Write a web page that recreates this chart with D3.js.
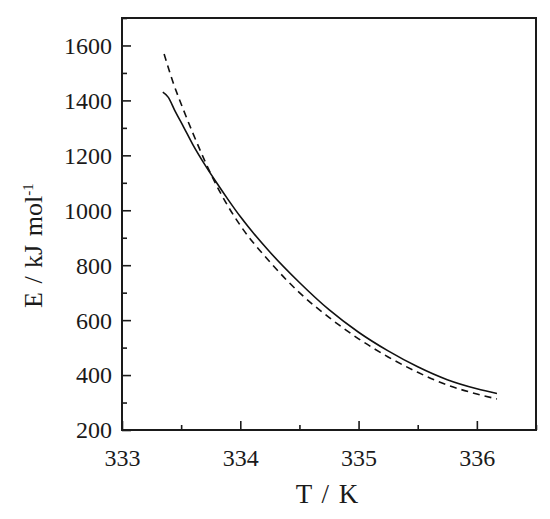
<!DOCTYPE html>
<html>
<head>
<meta charset="utf-8">
<script src="https://cdn.jsdelivr.net/npm/d3@7"></script>
<style>
  body { margin: 0; background: #fff; }
</style>
</head>
<body>
<div id="chart"></div>
<script>
'use strict';

// temperature (K) and activation energy (kJ/mol), solid curve
const solidT = [333.345, 333.39, 333.45, 333.52, 333.6, 333.7, 333.8, 333.9, 334.0, 334.25, 334.5, 334.75, 335.0, 335.25, 335.5, 335.75, 336.0, 336.17];
const solidE = [1430, 1412, 1360, 1304, 1238, 1166, 1100, 1037, 977, 848, 737, 638, 556, 488, 430, 383, 350, 333];

// dashed curve
const dashT = [333.356, 333.43, 333.52, 333.6, 333.7, 333.8, 333.9, 334.0, 334.25, 334.5, 334.75, 335.0, 335.25, 335.5, 335.75, 336.0, 336.17];
const dashE = [1569, 1468, 1365, 1280, 1180, 1090, 1012, 945, 812, 700, 610, 532, 466, 410, 364, 331, 313];

const xTicks = [333, 334, 335, 336];
const xMinor = [333.5, 334.5, 335.5, 336.5];
const yTicks = [200, 400, 600, 800, 1000, 1200, 1400, 1600];
const yMinor = [300, 500, 700, 900, 1100, 1300, 1500, 1700];

const serif = "'Liberation Serif', 'Times New Roman', Tinos, Times, serif";

const width = 550, height = 519;
const margin = {top: 18, right: 14, bottom: 89, left: 122};

const svg = d3.select("#chart").append("svg")
    .attr("width", width)
    .attr("height", height);

const x = d3.scaleLinear()
    .domain([333, 336.5])
    .range([margin.left, width - margin.right]);

const y = d3.scaleLinear()
    .domain([200, 1700])
    .range([height - margin.bottom, margin.top]);

// minor ticks, no labels
svg.append("g")
    .attr("transform", "translate(0," + y(200) + ")")
    .call(d3.axisBottom(x).tickValues(xMinor).tickSize(-5).tickFormat(""))
    .call(g => g.select(".domain").remove());

svg.append("g")
    .attr("transform", "translate(" + x(333) + ",0)")
    .call(d3.axisLeft(y).tickValues(yMinor).tickSize(-5).tickFormat(""))
    .call(g => g.select(".domain").remove());

// major ticks
const xAxis = svg.append("g")
    .attr("transform", "translate(0," + y(200) + ")")
    .call(d3.axisBottom(x).tickValues(xTicks).tickSize(-9).tickPadding(13).tickFormat(d3.format("d")));
xAxis.select(".domain").remove();

const yAxis = svg.append("g")
    .attr("transform", "translate(" + x(333) + ",0)")
    .call(d3.axisLeft(y).tickValues(yTicks).tickSize(-9).tickPadding(10).tickFormat(d3.format("d")));
yAxis.select(".domain").remove();

svg.selectAll("g").attr("font-family", serif);
xAxis.selectAll("text").attr("font-size", 24).attr("fill", "#1a1a1a").attr("dy", "0.95em");
yAxis.selectAll("text").attr("font-size", 24).attr("fill", "#1a1a1a").attr("dy", "0.33em");
svg.selectAll(".tick line").attr("stroke", "#1a1a1a").attr("stroke-width", 1.6);

// frame
svg.append("rect")
    .attr("x", x(333))
    .attr("y", y(1700))
    .attr("width", x(336.5) - x(333))
    .attr("height", y(200) - y(1700))
    .attr("fill", "none")
    .attr("stroke", "#1a1a1a")
    .attr("stroke-width", 2);

const line = d3.line()
    .x(d => x(d[0]))
    .y(d => y(d[1]))
    .curve(d3.curveMonotoneX);

svg.append("path")
    .datum(d3.zip(solidT, solidE))
    .attr("d", line)
    .attr("fill", "none")
    .attr("stroke", "#111")
    .attr("stroke-width", 1.6);

svg.append("path")
    .datum(d3.zip(dashT, dashE))
    .attr("d", line)
    .attr("fill", "none")
    .attr("stroke", "#111")
    .attr("stroke-width", 1.6)
    .attr("stroke-dasharray", "7,5");

// axis titles
svg.append("text")
    .attr("x", 327)
    .attr("y", 503)
    .attr("text-anchor", "middle")
    .attr("font-family", serif)
    .attr("font-size", 27)
    .attr("word-spacing", 3)
    .attr("fill", "#1a1a1a")
    .text("T / K");

const yTitle = svg.append("text")
    .attr("transform", "translate(42,308) rotate(-90)")
    .attr("text-anchor", "start")
    .attr("font-family", serif)
    .attr("font-size", 26)
    .attr("word-spacing", 2)
    .attr("fill", "#1a1a1a");
yTitle.append("tspan").text("E / kJ mol");
yTitle.append("tspan")
    .attr("dy", "-0.6em")
    .attr("font-size", 15)
    .text("-1");
</script>
</body>
</html>
